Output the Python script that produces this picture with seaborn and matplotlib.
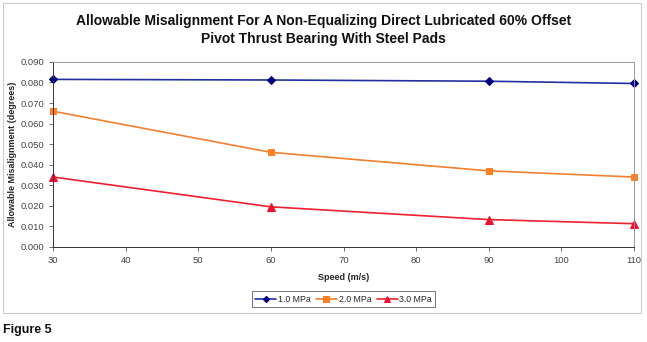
import matplotlib
matplotlib.use("Agg")
import matplotlib.pyplot as plt
import seaborn as sns
import pandas as pd
from matplotlib.patches import Rectangle

speed = [30, 60, 90, 110]
mpa_1 = [0.0815, 0.0812, 0.0806, 0.0795]
mpa_2 = [0.066, 0.046, 0.037, 0.034]
mpa_3 = [0.034, 0.0195, 0.0133, 0.0113]
series_names = ["1.0 MPa", "2.0 MPa", "3.0 MPa"]
x_ticks = [30, 40, 50, 60, 70, 80, 90, 100, 110]
y_ticks = [0.0, 0.01, 0.02, 0.03, 0.04, 0.05, 0.06, 0.07, 0.08, 0.09]

df = pd.DataFrame({
    "Speed": speed * 3,
    "Value": mpa_1 + mpa_2 + mpa_3,
    "Series": [series_names[0]] * 4 + [series_names[1]] * 4 + [series_names[2]] * 4,
})

sns.set_style("white")
plt.rcParams['font.family'] = ['Liberation Sans', 'DejaVu Sans']

fig = plt.figure(figsize=(6.47, 3.42), dpi=100)
ax = fig.add_axes([0.082, 0.278, 0.898, 0.541])

palette = {"1.0 MPa": "#000080", "2.0 MPa": "#FF8020", "3.0 MPa": "#F01030"}
markers = {"1.0 MPa": "D", "2.0 MPa": "s", "3.0 MPa": "^"}
msizes = {"1.0 MPa": 4, "2.0 MPa": 5, "3.0 MPa": 5.5}
line_colors = {"1.0 MPa": "#2030a0", "2.0 MPa": "#F08030", "3.0 MPa": "#F02030"}
for name in series_names:
    sub = df[df["Series"] == name]
    sns.lineplot(data=sub, x="Speed", y="Value", ax=ax, color=line_colors[name],
                 marker=markers[name], markersize=msizes[name], markerfacecolor=palette[name],
                 markeredgecolor=palette[name], linewidth=1.2, label=name, clip_on=False)

ax.set_xlim(30, 110)
ax.set_ylim(0, 0.09)
ax.set_xticks(x_ticks)
ax.set_yticks(y_ticks)
ax.set_yticklabels([f"{v:.3f}" for v in y_ticks])
ax.tick_params(axis="both", labelsize=6.8, labelcolor="#444444", length=3,
               direction="out", color="#555555", width=0.6)
ax.tick_params(axis="x", bottom=True)
ax.tick_params(axis="y", left=True)
for s in ["left", "bottom"]:
    ax.spines[s].set_color("#333333")
    ax.spines[s].set_linewidth(0.7)
for s in ["top", "right"]:
    ax.spines[s].set_color("#999999")
    ax.spines[s].set_linewidth(0.7)
ax.set_xlabel("Speed (m/s)", fontsize=6.5, fontweight="bold", labelpad=6)
ax.set_ylabel("Allowable Misalignment (degrees)", fontsize=6.5, fontweight="bold", labelpad=2)

leg = ax.legend(loc="upper center", bbox_to_anchor=(0.5, -0.215), ncol=3, fontsize=6.3,
                frameon=True, fancybox=False, edgecolor="#333333", handlelength=2.4,
                handletextpad=0.2, columnspacing=0.6, borderpad=0.4, markerscale=0.8)
leg.get_frame().set_linewidth(0.6)

fig.text(0.5, 0.94, "Allowable Misalignment For A Non-Equalizing Direct Lubricated 60% Offset",
         ha="center", va="center", fontsize=10, fontweight="bold", color="#111111")
fig.text(0.5, 0.885, "Pivot Thrust Bearing With Steel Pads",
         ha="center", va="center", fontsize=10, fontweight="bold", color="#111111")

fig.patches.append(Rectangle((3 / 647, 1 - 313 / 342), 638 / 647, 310 / 342,
                             transform=fig.transFigure, fill=False,
                             edgecolor="#cccccc", linewidth=0.8))
fig.text(3 / 647, 1 - 330 / 342, "Figure 5", ha="left", va="center",
         fontsize=9, fontweight="bold", color="#111111")

fig.savefig("out.png", dpi=100)
